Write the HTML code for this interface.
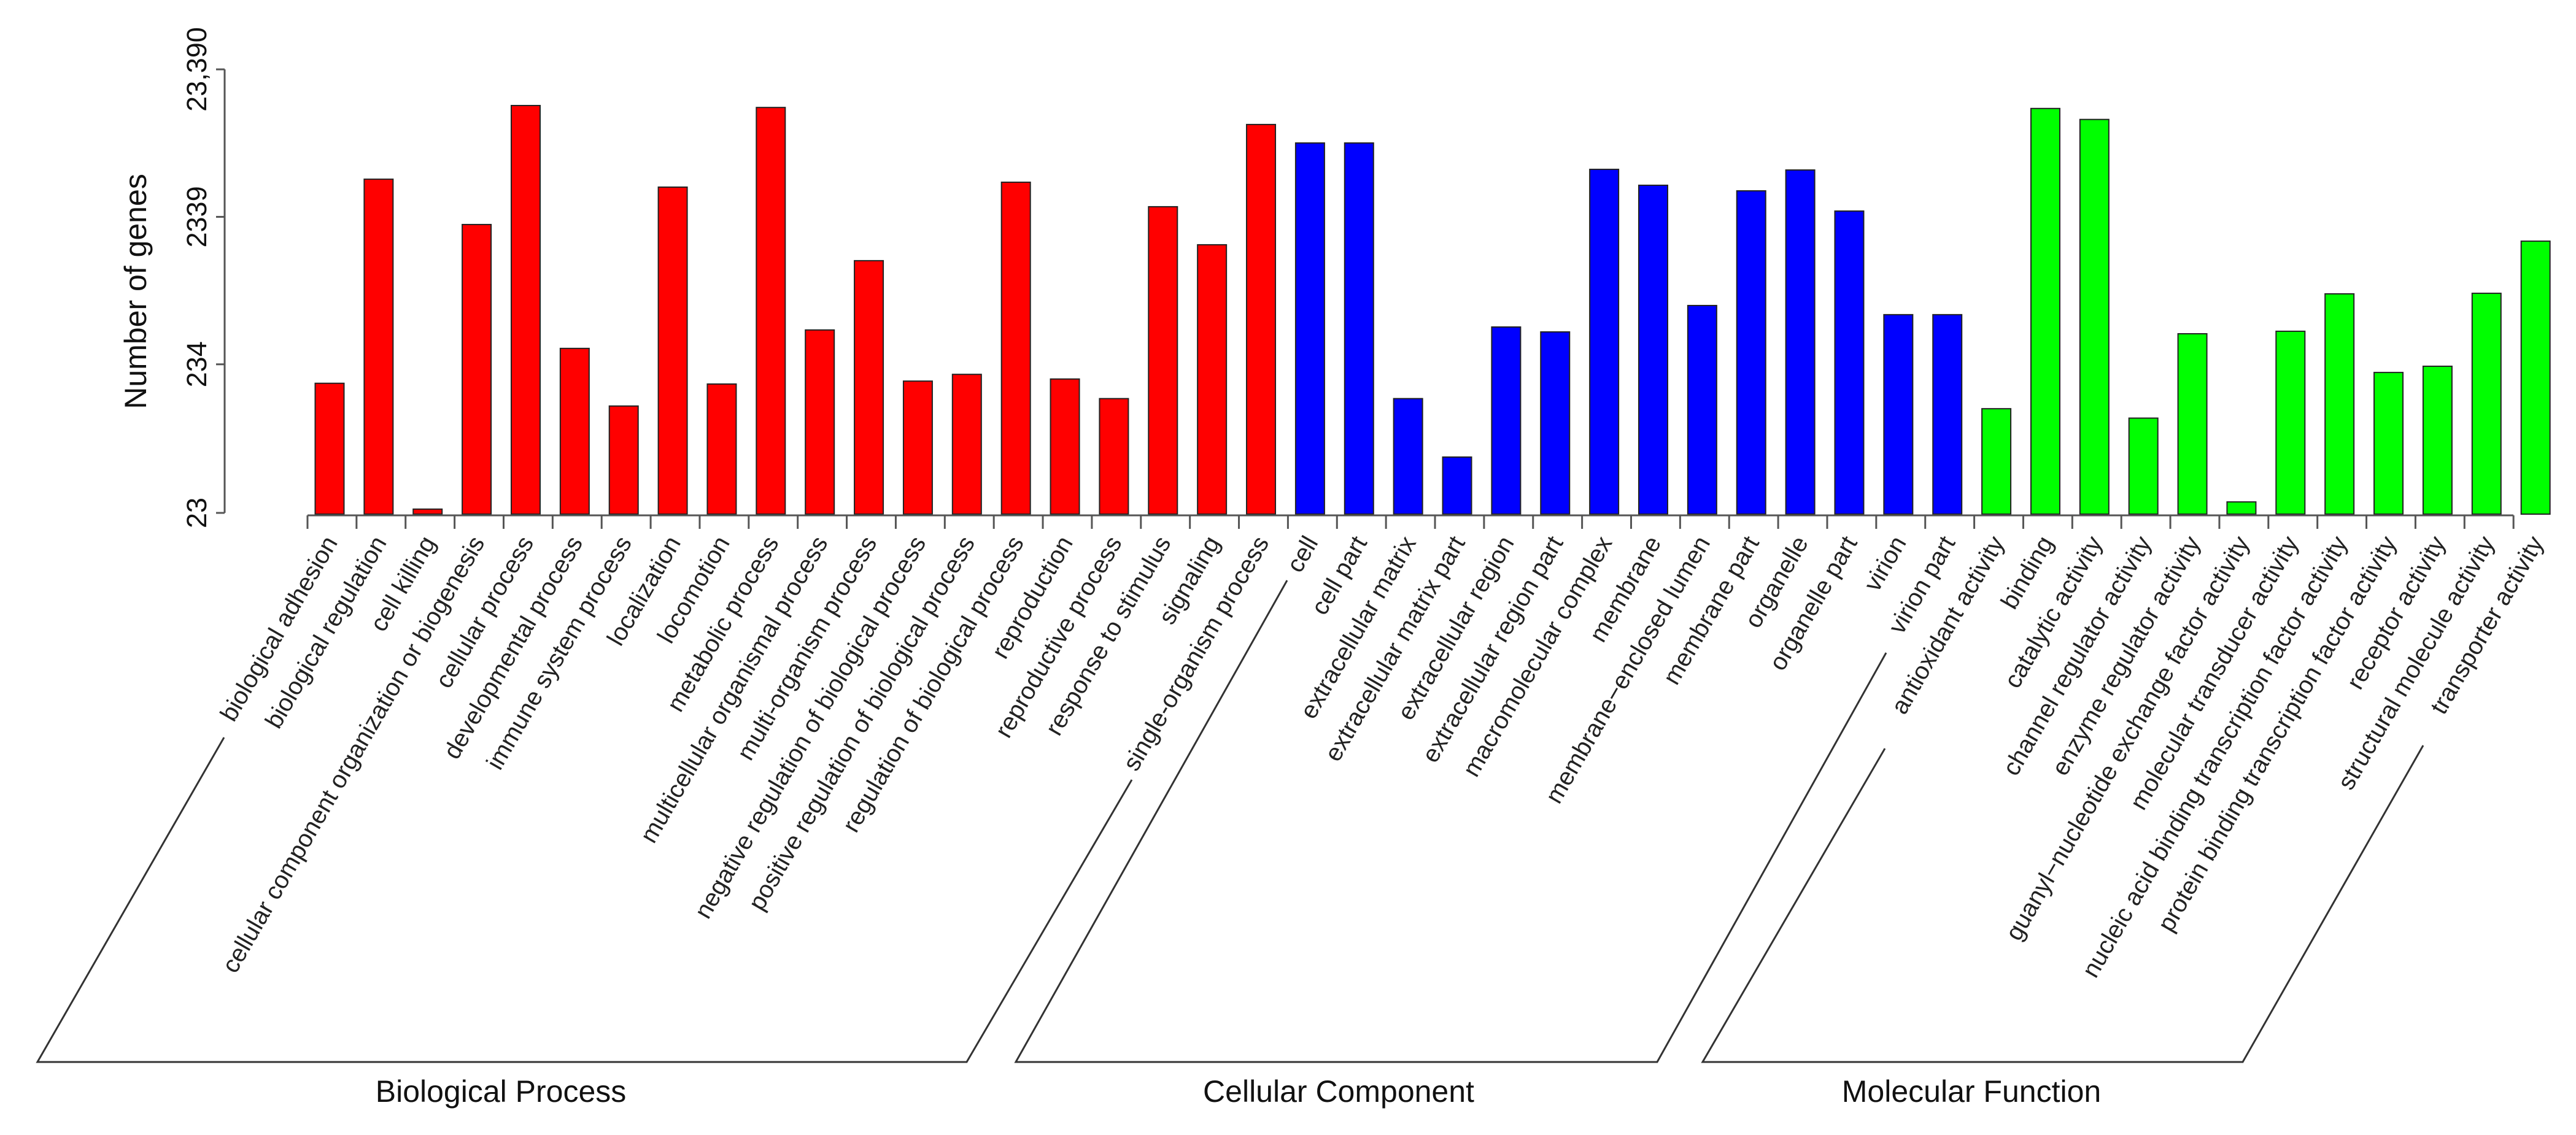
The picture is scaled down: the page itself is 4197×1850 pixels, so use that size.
<!DOCTYPE html>
<html><head><meta charset="utf-8"><style>
html,body{margin:0;padding:0;background:#fff;}
svg{display:block;font-family:"Liberation Sans",Arial,sans-serif;}
</style></head><body>
<svg id="chart" width="4197" height="1850" viewBox="0 0 4197 1850" xmlns="http://www.w3.org/2000/svg">
<rect width="4197" height="1850" fill="#fff"/>
<g id="bars"></g>
<g id="xaxis"></g>
<g id="yaxis"></g>
<g id="labels"></g>
<text transform="translate(238,475) rotate(-90)" text-anchor="middle" font-size="50" fill="#111">Number of genes</text>
<g stroke="#333" stroke-width="3" fill="none">
<polyline points="365,1202 61,1731 1575,1731 1844,1271"/>
<polyline points="2097,946 1655,1731 2700,1731 3073,1064"/>
<polyline points="3071,1220 2774,1731 3654,1731 3948,1215"/>
</g>
<text x="816" y="1796" text-anchor="middle" font-size="50" fill="#111">Biological Process</text>
<text x="2181" y="1796" text-anchor="middle" font-size="50" fill="#111">Cellular Component</text>
<text x="3212" y="1796" text-anchor="middle" font-size="50" fill="#111">Molecular Function</text>
</svg>
<script>
const categories = ["biological adhesion","biological regulation","cell killing","cellular component organization or biogenesis","cellular process","developmental process","immune system process","localization","locomotion","metabolic process","multicellular organismal process","multi-organism process","negative regulation of biological process","positive regulation of biological process","regulation of biological process","reproduction","reproductive process","response to stimulus","signaling","single-organism process",
"cell","cell part","extracellular matrix","extracellular matrix part","extracellular region","extracellular region part","macromolecular complex","membrane","membrane\u2212enclosed lumen","membrane part","organelle","organelle part","virion","virion part",
"antioxidant activity","binding","catalytic activity","channel regulator activity","enzyme regulator activity","guanyl\u2212nucleotide exchange factor activity","molecular transducer activity","nucleic acid binding transcription factor activity","protein binding transcription factor activity","receptor activity","structural molecule activity","transporter activity"];
const groups = ["BP","BP","BP","BP","BP","BP","BP","BP","BP","BP","BP","BP","BP","BP","BP","BP","BP","BP","BP","BP",
"CC","CC","CC","CC","CC","CC","CC","CC","CC","CC","CC","CC","CC","CC",
"MF","MF","MF","MF","MF","MF","MF","MF","MF","MF","MF","MF"];
const geneCounts = [174,4210,24.4,2075,13300,300,122,3720,172,12900,400,1180,180,200,4015,186,137,2740,1513,9890,
7410,7410,137,55,419,388,4910,3830,586,3510,4860,2560,508,508,
117,12700,10700,101,377,27.3,392,703,206,227,709,1600];
const tickValues = [23,234,2339,23390];
const tickLabels = ["23","234","2339","23,390"];

const NS="http://www.w3.org/2000/svg";
const colors={BP:"#ff0000",CC:"#0000ff",MF:"#00ff00"};
const x0=537, step=79.87, barW=47;
const yBase=836, perDecade=240.4, vMin=23;
function xScale(i){return x0+step*i;}
function yScale(v){return yBase-(Math.log10(v)-Math.log10(vMin))*perDecade;}
function mk(tag,attrs,parent){const e=document.createElementNS(NS,tag);for(const k in attrs)e.setAttribute(k,attrs[k]);parent.appendChild(e);return e;}

const gb=document.getElementById('bars');
const gl=document.getElementById('labels');
const gx=document.getElementById('xaxis');
const gy=document.getElementById('yaxis');
categories.forEach((c,i)=>{
  const cx=xScale(i), yt=yScale(geneCounts[i]);
  const r=mk('rect',{x:cx-barW/2,y:yt,width:barW,height:Math.max(1,838-yt),fill:colors[groups[i]],stroke:"#222","stroke-width":2},gb);
  
  
  const t=mk('text',{transform:`translate(${cx+14},884) rotate(-60)`,"text-anchor":"end","font-size":40,fill:"#222"},gl);
  t.textContent=c;
  
  
  const tk=mk('line',{x1:cx-36,x2:cx-36,y1:840,y2:862,stroke:"#555","stroke-width":3},gx);
  
  
});
const xl=mk('line',{x1:xScale(0)-36,x2:xScale(categories.length-1)-36,y1:840,y2:840,stroke:"#555","stroke-width":3},gx);


const yl=mk('line',{x1:366,x2:366,y1:yScale(tickValues[tickValues.length-1]),y2:yScale(tickValues[0]),stroke:"#555","stroke-width":3},gy);


tickValues.forEach((v,i)=>{
  const y=yScale(v);
  const l=mk('line',{x1:352,x2:366,y1:y,y2:y,stroke:"#555","stroke-width":3},gy);
  
  
  const t=mk('text',{transform:`translate(336,${y}) rotate(-90)`,"text-anchor":"middle","font-size":45,fill:"#111"},gy);
  t.textContent=tickLabels[i];
  
  
});
</script>
</body></html>
